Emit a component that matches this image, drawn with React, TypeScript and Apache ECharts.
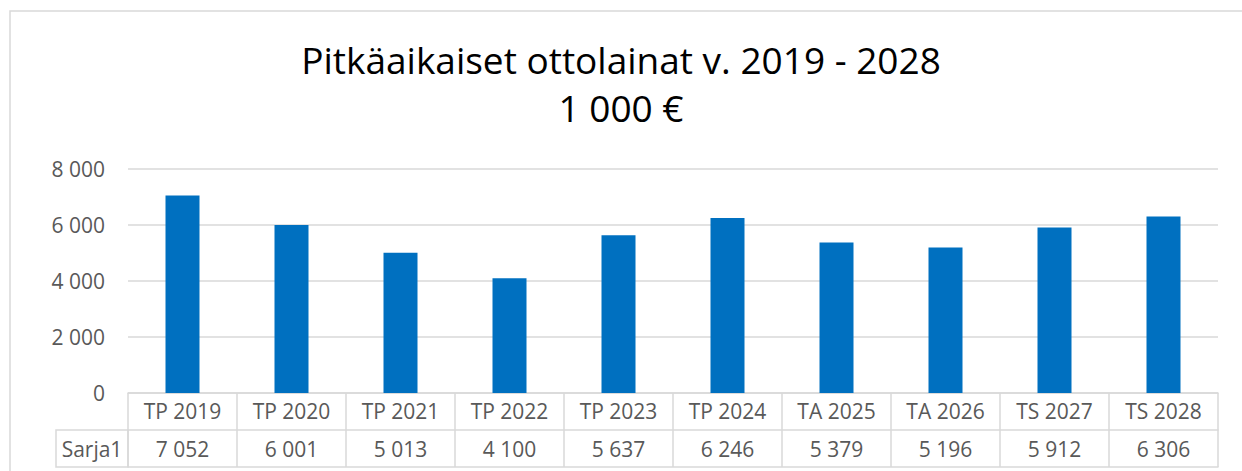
import React, { useEffect, useRef } from "react";
import * as echarts from "echarts";

const categories = ["TP 2019", "TP 2020", "TP 2021", "TP 2022", "TP 2023", "TP 2024", "TA 2025", "TA 2026", "TS 2027", "TS 2028"];
const values = [7052, 6001, 5013, 4100, 5637, 6246, 5379, 5196, 5912, 6306];
const seriesName = "Sarja1";
const titleLines = ["Pitkäaikaiset ottolainat v. 2019 - 2028", "1 000 €"];

const fmt = (v: number) => String(Math.round(v)).replace(/\B(?=(\d{3})+(?!\d))/g, " ");

const FONT = "'Open Sans', sans-serif";
const TXT = "#595959";
const LINE = "#d9d9d9";
const FS = 21;

export default function App() {
  const ref = useRef<HTMLDivElement>(null);
  useEffect(() => {
    if (!ref.current) return;
    const chart = echarts.init(ref.current, undefined, { renderer: "svg" });
    chart.setOption({
      animation: false,
      backgroundColor: "#ffffff",
      textStyle: { fontFamily: FONT },
      title: {
        text: titleLines.join("\n"),
        left: "center",
        top: 30,
        textStyle: { fontFamily: FONT, fontSize: 37, fontWeight: "normal", color: "#000000", lineHeight: 48 },
      },
      grid: { left: 128, right: 24, top: 169, bottom: 78, containLabel: false },
      xAxis: [
        {
          type: "category",
          data: categories,
          boundaryGap: true,
          axisLine: { show: true, lineStyle: { color: LINE, width: 1.5 } },
          axisTick: { show: true, interval: 0, length: 74, lineStyle: { color: LINE, width: 1.5 } },
          axisLabel: { interval: 0, margin: 18, verticalAlign: "middle", color: TXT, fontSize: FS, fontFamily: FONT },
          splitLine: { show: false },
        },
        {
          type: "category",
          data: categories,
          position: "bottom",
          offset: 37,
          boundaryGap: true,
          axisLine: { show: true, lineStyle: { color: LINE, width: 1.5 } },
          axisTick: { show: false },
          axisLabel: {
            interval: 0,
            margin: 19,
            verticalAlign: "middle",
            color: TXT,
            fontSize: FS,
            fontFamily: FONT,
            formatter: (_v: string, idx: number) => fmt(values[idx]),
          },
        },
        {
          type: "category",
          data: categories,
          position: "bottom",
          offset: 74,
          boundaryGap: true,
          axisLine: { show: true, lineStyle: { color: LINE, width: 1.5 } },
          axisTick: { show: false },
          axisLabel: { show: false },
        },
      ],
      yAxis: {
        type: "value",
        min: 0,
        max: 8000,
        interval: 2000,
        axisLine: { show: false },
        axisTick: { show: false },
        axisLabel: { margin: 23, color: TXT, fontSize: FS, fontFamily: FONT, formatter: (v: number) => fmt(v) },
        splitLine: { show: true, lineStyle: { color: LINE, width: 1.5 } },
      },
      series: [
        {
          name: seriesName,
          type: "bar",
          xAxisIndex: 0,
          data: values,
          barWidth: 34,
          itemStyle: { color: "#0070C0" },
        },
      ],
      graphic: [
        {
          type: "rect",
          shape: { x: 10, y: 11, width: 1240, height: 470 },
          style: { fill: "none", stroke: LINE, lineWidth: 1.5 },
          silent: true,
        },
        {
          type: "rect",
          shape: { x: 56, y: 430, width: 72, height: 37 },
          style: { fill: "none", stroke: LINE, lineWidth: 1.5 },
          silent: true,
        },
        {
          type: "text",
          x: 92,
          y: 449,
          style: { text: seriesName, fill: TXT, fontSize: FS, fontFamily: FONT, align: "center", verticalAlign: "middle" },
          silent: true,
        },
      ],
    });
    return () => chart.dispose();
  }, []);
  return <div ref={ref} style={{ position: "fixed", left: 0, top: 0, width: 1242, height: 471 }} />;
}
